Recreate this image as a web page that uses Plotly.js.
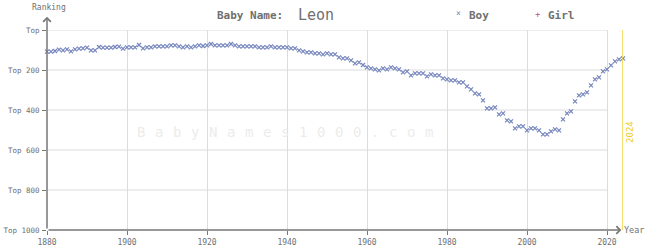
<!DOCTYPE html>
<html>
<head>
<meta charset="utf-8">
<script src="https://cdn.plot.ly/plotly-3.0.1.min.js"></script>
<style>
html,body{margin:0;padding:0;background:#fff;}
#chart{width:645px;height:250px;}
</style>
</head>
<body>
<div id="chart"></div>
<script>
var nameLabel = 'Leon';
var currentYear = 2024;
var boyYears = [];
for (var yr = 1880; yr <= 2024; yr++) boyYears.push(yr);
var boyRanks = [
  108,108,105,98,102,97,107,97,93,92,
  88,102,102,85,88,88,88,85,83,93,
  87,87,87,75,92,87,87,82,82,82,
  82,77,77,82,87,82,87,82,77,80,
  77,70,77,77,77,77,70,77,82,82,
  82,82,82,87,87,87,82,87,87,87,
  87,92,92,102,107,112,112,117,117,122,
  117,122,122,137,142,142,152,167,162,175,
  187,192,197,202,192,197,187,192,197,212,
  207,227,217,217,217,232,222,227,227,242,
  247,252,252,262,262,282,297,317,322,352,
  392,392,387,422,417,452,457,492,482,482,
  502,492,492,502,522,522,507,497,502,447,
  417,407,357,327,322,312,277,247,237,207,
  197,177,157,147,142
];
var girlYears = [];
var girlRanks = [];
var xTickVals = [1880,1900,1920,1940,1960,1980,2000,2020];
var xTickText = ['1880','1900','1920','1940','1960','1980','2000','2020'];
var yTickVals = [0,200,400,600,800,1000];
var yTickText = ['Top','Top 200','Top 400','Top 600','Top 800','Top 1000'];
var watermark = 'BabyNames1000.com';

var mono = '"DejaVu Sans Mono", monospace';
var textGray = '#707070';
var boyColor = '#7585bd';
var girlColor = '#c0507a';

var traces = [
  {x: boyYears, y: boyRanks, type: 'scatter', mode: 'markers', name: 'Boy',
   cliponaxis: false,
   marker: {symbol: 'x-thin', size: 4, color: boyColor, line: {color: boyColor, width: 1.2}},
   hoverinfo: 'x+y'},
  {x: girlYears, y: girlRanks, type: 'scatter', mode: 'markers', name: 'Girl',
   marker: {symbol: 'cross-thin', size: 4, color: girlColor, line: {color: girlColor, width: 1.2}}}
];

var shapes = [];
yTickVals.forEach(function (v) {
  if (v === 1000) return;
  shapes.push({type: 'line', xref: 'x', yref: 'y', x0: xTickVals[0], x1: xTickVals[xTickVals.length - 1],
    y0: v, y1: v, line: {color: '#dcdcdc', width: 1}, layer: 'below'});
});
shapes.push({type: 'line', xref: 'x', yref: 'y', x0: currentYear, x1: currentYear, y0: 0, y1: 1000,
  line: {color: '#f5d43a', width: 1.5}});

var annotations = [
  {xref: 'paper', yref: 'paper', x: 0.413, y: 1.07, xanchor: 'right', yanchor: 'middle',
   text: '<b>Baby Name:</b>', showarrow: false, font: {family: mono, size: 11, color: textGray}},
  {xref: 'paper', yref: 'paper', x: 0.432, y: 1.075, xanchor: 'left', yanchor: 'middle',
   text: nameLabel, showarrow: false, font: {family: mono, size: 15, color: textGray}},
  {xref: 'paper', yref: 'paper', x: 0.714, y: 1.08, xanchor: 'center', yanchor: 'middle',
   text: '×', showarrow: false, font: {family: mono, size: 8, color: boyColor}},
  {xref: 'paper', yref: 'paper', x: 0.729, y: 1.07, xanchor: 'left', yanchor: 'middle',
   text: '<b>Boy</b>', showarrow: false, font: {family: mono, size: 11, color: textGray}},
  {xref: 'paper', yref: 'paper', x: 0.852, y: 1.08, xanchor: 'center', yanchor: 'middle',
   text: '+', showarrow: false, font: {family: mono, size: 9, color: girlColor}},
  {xref: 'paper', yref: 'paper', x: 0.867, y: 1.07, xanchor: 'left', yanchor: 'middle',
   text: '<b>Girl</b>', showarrow: false, font: {family: mono, size: 11, color: textGray}},
  {xref: 'paper', yref: 'paper', x: 0.003, y: 1.11, xanchor: 'center', yanchor: 'middle',
   text: 'Ranking', showarrow: false, font: {family: mono, size: 8, color: textGray}},
  {xref: 'paper', yref: 'paper', x: 0.998, y: 0, xanchor: 'left', yanchor: 'middle',
   text: 'Year', showarrow: false, font: {family: mono, size: 8.5, color: textGray}},
  {xref: 'x', yref: 'y', x: 1880, y: -66, ax: 1880, ay: 1000, axref: 'x', ayref: 'y',
   text: '', showarrow: true, arrowhead: 4, arrowsize: 1, arrowwidth: 1.5, arrowcolor: '#777', standoff: 0, startstandoff: 0},
  {xref: 'x', yref: 'y', x: 2023.6, y: 1000, ax: 1880, ay: 1000, axref: 'x', ayref: 'y',
   text: '', showarrow: true, arrowhead: 4, arrowsize: 1, arrowwidth: 1.5, arrowcolor: '#777', standoff: 0, startstandoff: 0},
  {xref: 'paper', yref: 'paper', x: 1.012, y: 0.49, xanchor: 'center', yanchor: 'middle',
   text: String(currentYear), textangle: -90, showarrow: false,
   font: {family: mono, size: 9, color: '#f0cc30'}}
];

// watermark letters spaced evenly (18px apart, starting at x=141px)
var plotW = 645 - 47 - 22;
watermark.split('').forEach(function (ch, i) {
  annotations.push({xref: 'paper', yref: 'paper', x: (141 + i * 18 - 47) / plotW, y: 0.488,
    xanchor: 'center', yanchor: 'middle', text: ch, showarrow: false,
    font: {family: mono, size: 14, color: '#ececec'}});
});

var layout = {
  width: 645, height: 250,
  margin: {l: 47, r: 22, t: 30, b: 20, pad: 0},
  paper_bgcolor: '#ffffff', plot_bgcolor: '#ffffff',
  showlegend: false,
  xaxis: {range: [1880, 2024], tickvals: xTickVals, ticktext: xTickText,
    showgrid: true, gridcolor: '#dcdcdc', gridwidth: 1, zeroline: false, showline: false,
    ticks: 'outside', ticklen: 4, tickcolor: '#777', tickwidth: 1,
    tickfont: {family: mono, size: 8, color: textGray}, fixedrange: true},
  yaxis: {range: [1000, 0], tickvals: yTickVals, ticktext: yTickText,
    showgrid: false, zeroline: false, showline: false,
    ticks: 'outside', ticklen: 4, tickcolor: '#777', tickwidth: 1, ticklabelstandoff: 1,
    tickfont: {family: mono, size: 7.5, color: textGray}, fixedrange: true},
  shapes: shapes,
  annotations: annotations
};

Plotly.newPlot('chart', traces, layout, {displayModeBar: false, staticPlot: true});
</script>
</body>
</html>
